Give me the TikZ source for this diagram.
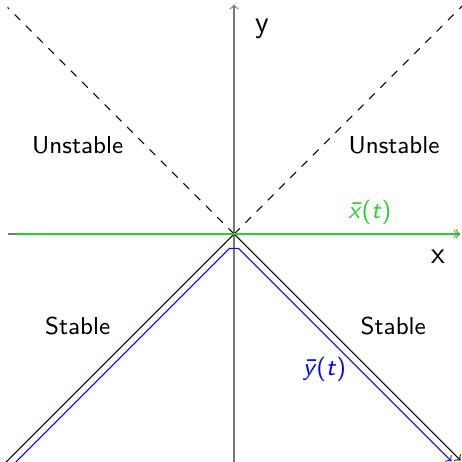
\documentclass[tikz,border=0pt]{standalone}
\usetikzlibrary{arrows}
\definecolor{axisgray}{RGB}{120,120,120}
\definecolor{solgreen}{RGB}{45,205,45}
\begin{document}
\begin{tikzpicture}[font=\sffamily\fontsize{9.2}{11}\selectfont]
            %
            % `axis' is used for the two gray axes.
            % `region' is used for the labels of the four regions.
            % `sepline' is used for the dashed lines.
            \tikzstyle{axis} = [draw=axisgray,->]
            \tikzstyle{axislab} = [font=\sffamily\fontsize{11.5}{13}\selectfont]
            \tikzstyle{region} = [inner sep=1pt]
            \tikzstyle{sepline} = [draw,dashed]
            \tikzstyle{xsol} = [draw=solgreen,->]
            \tikzstyle{ysol} = [draw=blue,->]
            %
            \useasboundingbox (-3.1,-3.02) rectangle (3.02,3.1);
            %
            % Axes
            \coordinate (origin) at (0,0);
            \coordinate (xmin) at (-2.99,0);
            \coordinate (xmax) at (3.0,0);
            \coordinate (ymin) at (0,-3.02);
            \coordinate (ymax) at (0,3.04);
            \draw[axis] (xmin) -- (xmax);
            \draw[axis] (ymin) -- (ymax);
            \node[axislab] (xlab) at (2.7,-0.3) {x};
            \node[axislab] (ylab) at (0.37,2.72) {y};
            %
            % Dashed lines
            \coordinate (ul) at (-3.0,3.0);
            \coordinate (ur) at (3.02,3.02);
            \draw[sepline] (origin) -- (ul);
            \draw[sepline] (origin) -- (ur);
            %
            % Black lines
            \coordinate (ll) at (-3.02,-3.02);
            \coordinate (lr) at (3.0,-3.0);
            \draw (ll) -- (origin);
            \draw[->] (origin) -- (lr);
            %
            % Solutions
            \coordinate (gstart) at (-2.88,0);
            \coordinate (gend) at (2.97,0);
            \draw[xsol] (gstart) -- (gend);
            \coordinate (bstart) at (-2.89,-3.02);
            \coordinate (btopl) at (-0.06,-0.19);
            \coordinate (btopr) at (0.06,-0.19);
            \coordinate (bend) at (2.88,-3.01);
            \draw[ysol] (bstart) -- (btopl) -- (btopr) -- (bend);
            \node[text=solgreen] (xbar) at (1.8,0.29) {\textit{\=x}(\textit{t})};
            \node[text=blue] (ybar) at (1.2,-1.79) {\textit{\=y}(\textit{t})};
            %
            % Regions
            \node[region] (unstl) at (-2.07,1.18) {Unstable};
            \node[region] (unstr) at (2.12,1.18) {Unstable};
            \node[region] (stl) at (-2.07,-1.22) {Stable};
            \node[region] (str) at (2.11,-1.22) {Stable};
\end{tikzpicture}
\end{document}
